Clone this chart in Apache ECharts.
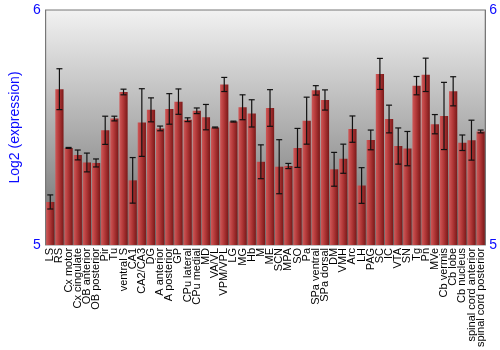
<!DOCTYPE html>
<html><head><meta charset="utf-8">
<script src="https://cdn.jsdelivr.net/npm/echarts@6/dist/echarts.min.js"></script>
<style>html,body{margin:0;padding:0;background:#fff}#c{width:500px;height:350px}</style>
</head><body><div id="c"></div>
<script>
const categories = ["LS","RS","Cx motor","Cx cingulate","OB anterior","OB posterior","Pir","Tu","ventral S","CA1","CA2/CA3","DG","A anterior","A posterior","GP","CPu lateral","CPu medial","MD","VA/VL","VPM/VPL","LG","MG","Hb","M","ME","SCN","MPA","SO","Pa","SPa ventral","SPa dorsal","DM","VMH","Arc","LH","PAG","SC","IC","VTA","SN","Tg","Pn","MVe","Cb vermis","Cb lobe","Cb nucleus","spinal cord anterior","spinal cord posterior"];
const values = [5.183,5.663,5.413,5.383,5.351,5.349,5.488,5.538,5.651,5.275,5.521,5.575,5.496,5.579,5.610,5.533,5.571,5.544,5.500,5.683,5.525,5.586,5.560,5.354,5.583,5.333,5.336,5.413,5.529,5.658,5.617,5.322,5.367,5.493,5.253,5.447,5.728,5.536,5.421,5.410,5.678,5.724,5.514,5.549,5.654,5.435,5.446,5.483];
const errors = [0.030,0.087,0.002,0.021,0.040,0.017,0.060,0.010,0.012,0.097,0.144,0.051,0.010,0.065,0.054,0.008,0.012,0.054,0.002,0.030,0.002,0.053,0.058,0.072,0.078,0.115,0.011,0.083,0.100,0.020,0.043,0.072,0.062,0.056,0.076,0.042,0.066,0.059,0.077,0.073,0.039,0.071,0.041,0.143,0.062,0.033,0.085,0.006];
const yTicks = [5, 6];

const errData = values.map((v, i) => [i, v - errors[i], v + errors[i]]);
const chart = echarts.init(document.getElementById('c'), null, {renderer: 'canvas'});
const font = 'Liberation Sans, Arial, sans-serif';
const blue = '#0a0aff';
chart.setOption({
  animation: false,
  grid: {
    left: 27, right: 13, top: 10, bottom: 100,
    show: true,
    borderColor: '#777', borderWidth: 1,
    backgroundColor: new echarts.graphic.LinearGradient(0, 0, 0, 1, [
      {offset: 0, color: '#f2f2f2'},
      {offset: 1, color: '#6a6a6a'}
    ])
  },
  xAxis: {
    type: 'category', data: categories,
    axisTick: {show: false},
    axisLine: {show: false},
    axisLabel: {rotate: 90, interval: 0, fontSize: 11, color: '#000', fontFamily: font, margin: 3}
  },
  yAxis: [{
    type: 'value', min: yTicks[0], max: yTicks[1], interval: 1,
    name: 'Log2 (expression)', nameLocation: 'middle', nameGap: 13,
    nameTextStyle: {color: blue, fontSize: 14, fontFamily: font},
    axisLine: {show: true, lineStyle: {color: '#777'}},
    axisTick: {show: false},
    splitLine: {show: false},
    axisLabel: {color: blue, fontSize: 14, fontFamily: font, margin: 5}
  }, {
    type: 'value', min: yTicks[0], max: yTicks[1], interval: 1, position: 'right',
    axisLine: {show: true, lineStyle: {color: '#777'}},
    axisTick: {show: false},
    splitLine: {show: false},
    axisLabel: {color: blue, fontSize: 14, fontFamily: font, margin: 4}
  }],
  series: [{
    type: 'bar', data: values, barCategoryGap: '10%',
    itemStyle: {
      color: new echarts.graphic.LinearGradient(0, 0, 1, 0, [
        {offset: 0, color: '#cf5858'},
        {offset: 0.45, color: '#b23838'},
        {offset: 1, color: '#7a1818'}
      ])
    }
  }, {
    type: 'custom', data: errData, z: 10,
    renderItem: function (params, api) {
      const x = api.value(0);
      const lo = api.coord([x, api.value(1)]);
      const hi = api.coord([x, api.value(2)]);
      const hw = 3;
      const style = {stroke: '#111', lineWidth: 1.2};
      return {type: 'group', children: [
        {type: 'line', shape: {x1: lo[0], y1: lo[1], x2: hi[0], y2: hi[1]}, style: style},
        {type: 'line', shape: {x1: lo[0]-hw, y1: lo[1], x2: lo[0]+hw, y2: lo[1]}, style: style},
        {type: 'line', shape: {x1: hi[0]-hw, y1: hi[1], x2: hi[0]+hw, y2: hi[1]}, style: style}
      ]};
    }
  }]
});
</script></body></html>
